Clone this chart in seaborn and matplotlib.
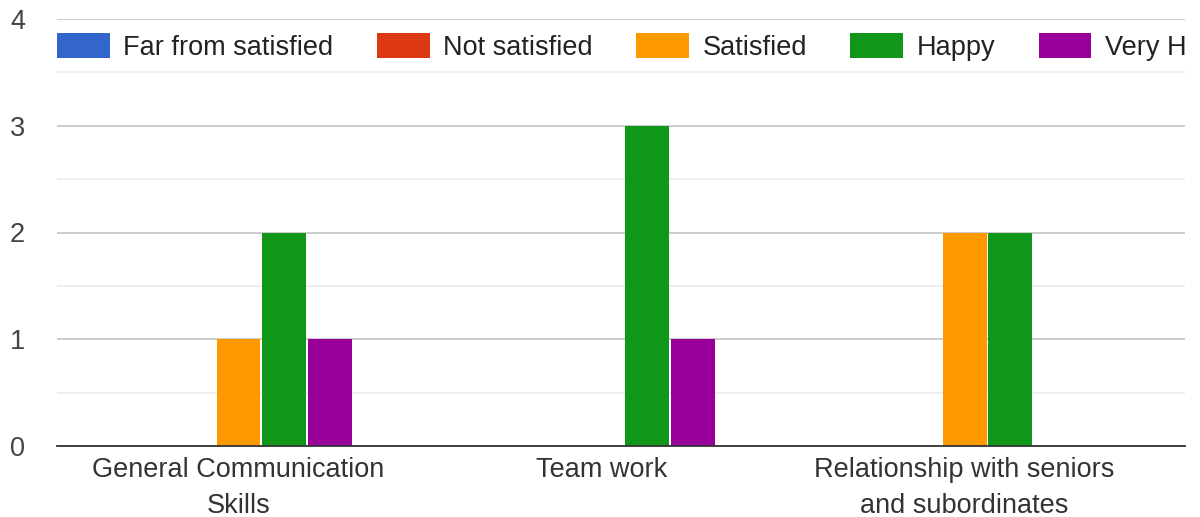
from matplotlib import pyplot as plt
from matplotlib.ticker import MultipleLocator
import seaborn as sns
import pandas as pd

categories = ['General Communication\nSkills', 'Team work',
              'Relationship with seniors\nand subordinates']
levels = ['Far from satisfied', 'Not satisfied', 'Satisfied', 'Happy', 'Very Happy']
far_from_satisfied = [0, 0, 0]
not_satisfied = [0, 0, 0]
satisfied = [1, 0, 2]
happy = [2, 3, 2]
very_happy = [1, 1, 0]
colors = ['#3366cc', '#dc3912', '#ff9900', '#109618', '#990099']

series = [far_from_satisfied, not_satisfied, satisfied, happy, very_happy]
rows = []
for level, vals in zip(levels, series):
    for cat, v in zip(categories, vals):
        rows.append({'category': cat, 'level': level, 'count': v})
data = pd.DataFrame(rows)

sns.set_style('white')
plt.rcParams['font.family'] = ['Liberation Sans', 'DejaVu Sans']

fig = plt.figure(figsize=(12, 5.17), dpi=100)
ax = fig.add_axes([57 / 1200, 1 - 446 / 517, (1185 - 57) / 1200, 427 / 517])

sns.barplot(data=data, x='category', y='count', hue='level', order=categories,
            hue_order=levels, palette=colors, width=0.627, gap=0.035,
            linewidth=0, saturation=1, ax=ax)

ax.set_ylim(0, 4)
ax.set_xlim(-0.5, 2.607)
ax.yaxis.set_major_locator(MultipleLocator(1))
ax.yaxis.set_minor_locator(MultipleLocator(0.5))
ax.grid(axis='y', which='major', color='#cccccc', linewidth=1.4)
ax.grid(axis='y', which='minor', color='#ebebeb', linewidth=1.2)
ax.set_axisbelow(True)
for side in ['top', 'right', 'left']:
    ax.spines[side].set_visible(False)
ax.spines['bottom'].set_color('#333333')
ax.spines['bottom'].set_linewidth(1.3)

ax.tick_params(axis='y', which='both', length=0, pad=23, labelsize=19.5, labelcolor='#444444')
ax.tick_params(axis='x', length=0, pad=8, labelsize=19.5, labelcolor='#333333')
for lbl in ax.get_xticklabels():
    lbl.set_linespacing(1.5)
ax.set_xlabel('')
ax.set_ylabel('')

handles, labels = ax.get_legend_handles_labels()
leg = ax.legend(handles, labels, loc='center left', bbox_to_anchor=(0, 0.934), ncol=5,
                frameon=False, fontsize=19.5, handlelength=1.95, handleheight=1.05,
                handletextpad=0.5, columnspacing=1.6, borderaxespad=0, borderpad=0,
                labelcolor='#222222')
# the chart is cut at the right edge of the plot area, legend included
for t in leg.get_texts():
    t.set_clip_box(ax.bbox)
    t.set_clip_on(True)

fig.savefig('out.png', dpi=100)
